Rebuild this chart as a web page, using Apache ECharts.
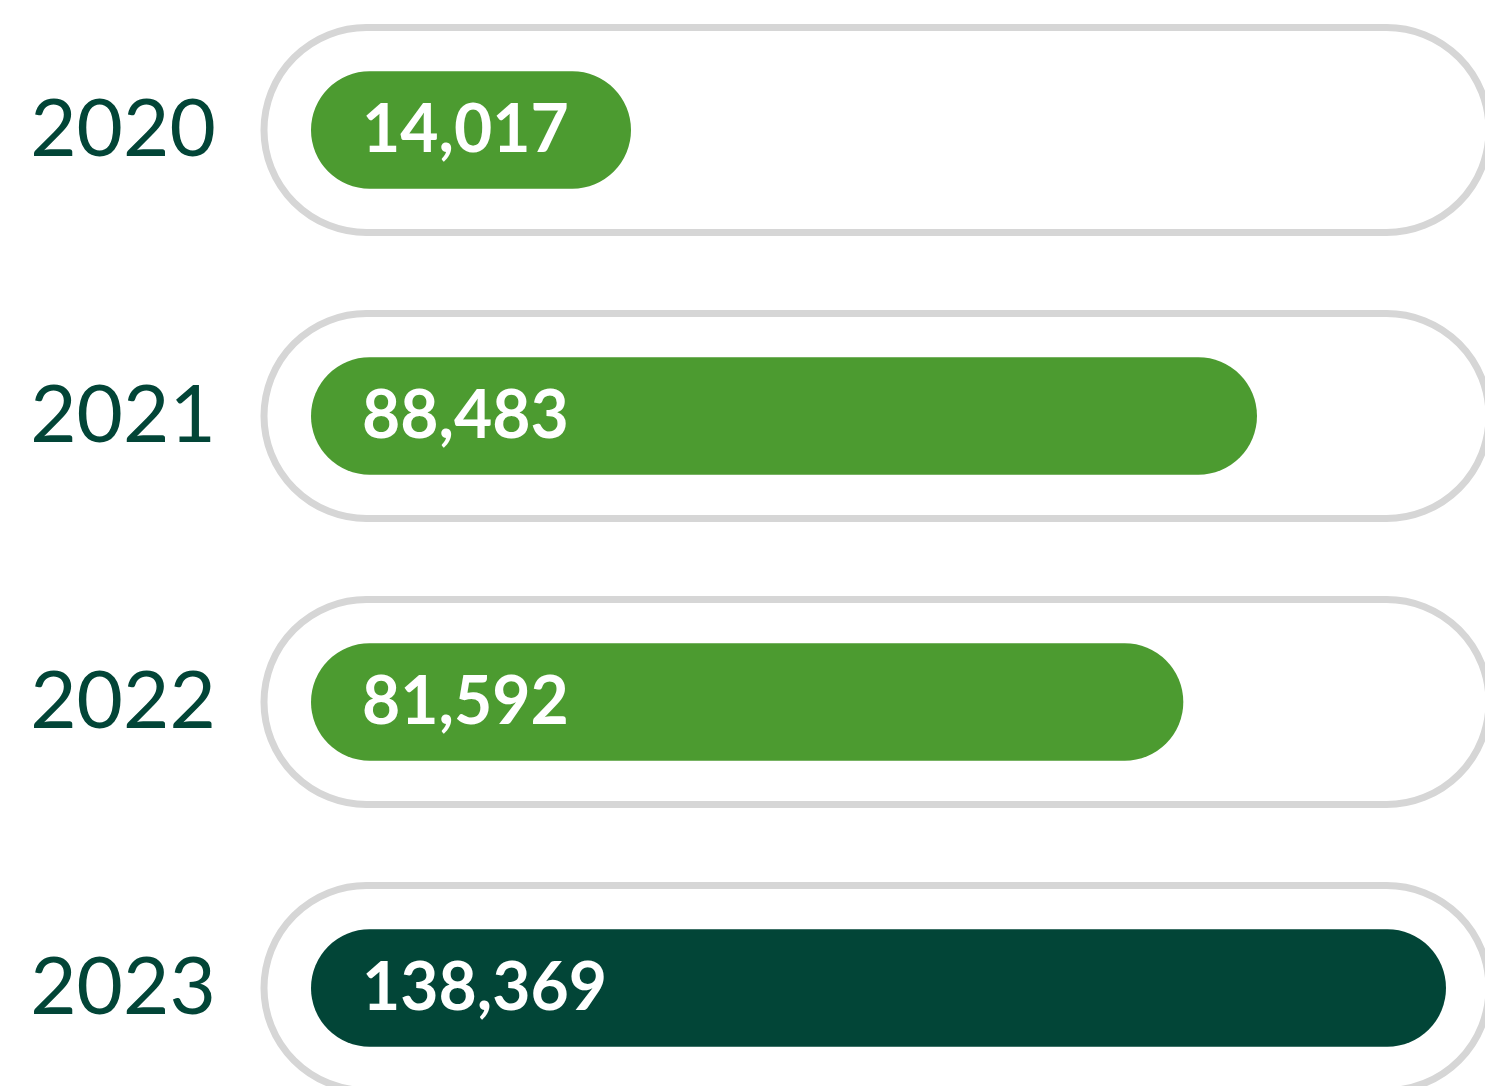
<!DOCTYPE html>
<html>
<head>
<meta charset="utf-8">
<style>
    html, body { margin: 0; padding: 0; background: #fff; }
    #chart { width: 1485px; height: 1086px; }
</style>
<script src="https://cdn.jsdelivr.net/npm/echarts@6/dist/echarts.min.js"></script>
</head>
<body>
<div id="chart"></div>
<script>
    // data
    const years = ['2020', '2021', '2022', '2023'];
    const values = [14017, 88483, 81592, 138369];
    const highlight = [false, false, false, true];

    const green = '#4c9b30';
    const darkGreen = '#024537';
    const trackColor = '#d6d6d6';

    const myChart = echarts.init(document.getElementById('chart'));

    // bars are capped to the track on the right and get a minimum length so the label fits
    const minBarLen = 320;

    function renderItem(params, api) {
        const idx = api.value(1);
        const start = api.coord([0, idx]);
        const end = api.coord([api.value(0), idx]);
        const band = api.size([0, 1])[1];
        const cs = params.coordSys;
        const right = Math.min(end[0], cs.x + cs.width);
        const barLen = Math.max(right - start[0], minBarLen);
        const barH = band * 0.41;
        const trackH = band * 0.717;
        const trackX = start[0] - 47;
        const trackW = cs.x + cs.width + 43 - trackX;
        return {
            type: 'group',
            children: [{
                type: 'rect',
                shape: { x: trackX, y: start[1] - trackH / 2, width: trackW, height: trackH, r: trackH / 2 },
                style: { fill: '#fff', stroke: trackColor, lineWidth: 7 }
            }, {
                type: 'rect',
                shape: { x: start[0], y: start[1] - barH / 2, width: barLen, height: barH, r: barH / 2 },
                style: { fill: highlight[params.dataIndex] ? darkGreen : green }
            }, {
                type: 'text',
                x: start[0] + 51,
                y: start[1] + 1,
                style: {
                    text: api.value(0).toLocaleString('en-US'),
                    fill: '#fff',
                    font: 'bold 66px Lato',
                    verticalAlign: 'middle',
                    align: 'left'
                }
            }]
        };
    }

    const option = {
        animation: false,
        grid: {
            left: 311,
            right: 39,
            top: -13,
            height: 1144,
            containLabel: false,
            outerBoundsMode: 'none'
        },
        xAxis: {
            type: 'value',
            min: 0,
            max: 106163,
            show: false
        },
        yAxis: {
            type: 'category',
            data: years,
            inverse: true,
            axisLine: { show: false },
            axisTick: { show: false },
            splitLine: { show: false },
            axisLabel: {
                margin: 188,
                align: 'center',
                color: darkGreen,
                fontFamily: 'Lato',
                fontSize: 80
            }
        },
        series: [{
            type: 'custom',
            renderItem: renderItem,
            encode: { x: 0, y: 1 },
            data: values.map((v, i) => [v, i])
        }]
    };

    myChart.setOption(option);
    window.onresize = () => {
        myChart.resize();
    };
</script>
</body>
</html>
